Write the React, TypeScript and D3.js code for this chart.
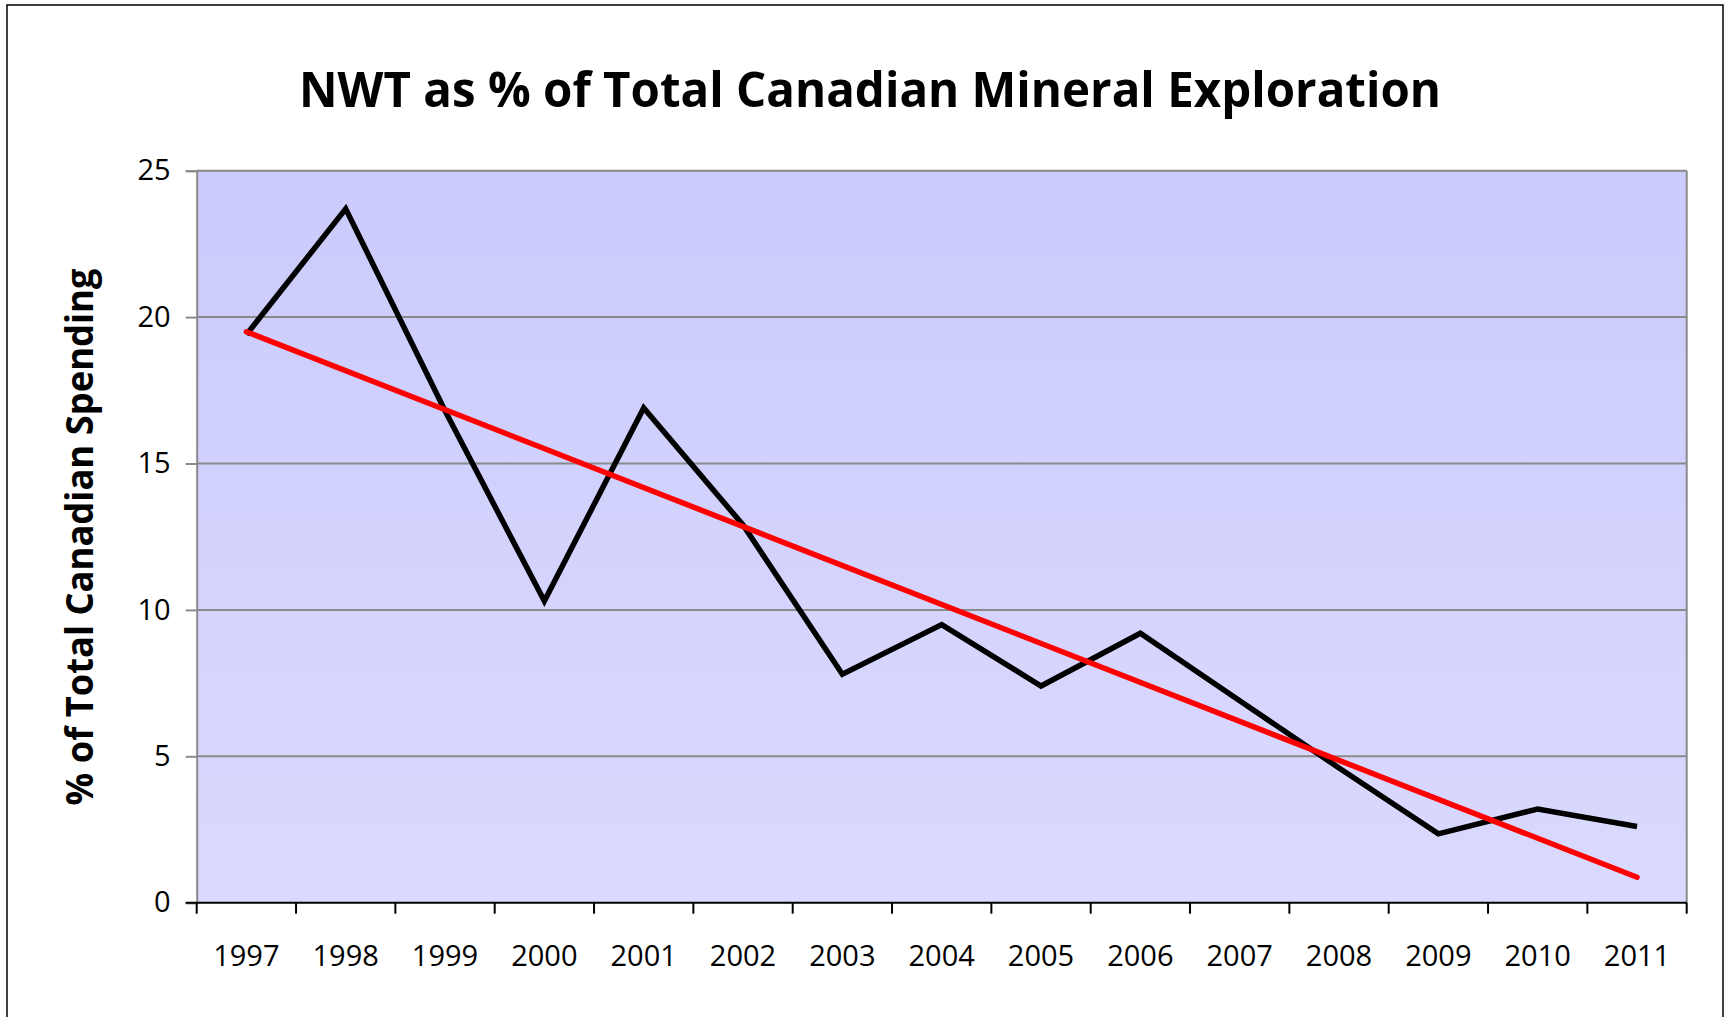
import React, { useEffect, useRef } from "react";
import * as d3 from "d3";

const years = ["1997", "1998", "1999", "2000", "2001", "2002", "2003", "2004", "2005", "2006", "2007", "2008", "2009", "2010", "2011"];
const nwtShare = [19.4, 23.7, 16.8, 10.3, 16.9, 12.9, 7.8, 9.5, 7.4, 9.2, 6.9, 4.6, 2.35, 3.2, 2.6];
// linear trend line end points
const trendYears = ["1997", "2011"];
const trendValues = [19.5, 0.87];
const yTicks = [0, 5, 10, 15, 20, 25];

const App = () => {
  const svgRef = useRef<SVGSVGElement>(null);

  useEffect(() => {
    const svg = d3.select(svgRef.current);
    svg.selectAll("*").remove();

    const width = 1730;
    const height = 1017;
    const margin = { top: 170.7, right: 43.3, bottom: 114.3, left: 196.7 };
    const font = "'Open Sans', sans-serif";

    // outer frame
    svg
      .append("rect")
      .attr("x", 7)
      .attr("y", 5)
      .attr("width", 1716)
      .attr("height", 1040)
      .attr("fill", "#fff")
      .attr("stroke", "#000")
      .attr("stroke-width", 1.5);

    const xScale = d3
      .scaleBand()
      .domain(years)
      .range([margin.left, width - margin.right])
      .padding(0);

    const yScale = d3
      .scaleLinear()
      .domain([0, 25])
      .range([height - margin.bottom, margin.top]);

    // plot background gradient
    const grad = svg
      .append("defs")
      .append("linearGradient")
      .attr("id", "plotBg")
      .attr("x1", 0)
      .attr("y1", 0)
      .attr("x2", 0)
      .attr("y2", 1);
    grad.append("stop").attr("offset", "0%").attr("stop-color", "#CBCBFC");
    grad.append("stop").attr("offset", "100%").attr("stop-color", "#DADAFF");

    svg
      .append("rect")
      .attr("x", margin.left)
      .attr("y", margin.top)
      .attr("width", width - margin.right - margin.left)
      .attr("height", height - margin.bottom - margin.top)
      .attr("fill", "url(#plotBg)");

    // gridlines
    svg
      .append("g")
      .selectAll("line")
      .data(yTicks.filter((d) => d > 0))
      .enter()
      .append("line")
      .attr("x1", margin.left)
      .attr("x2", width - margin.right)
      .attr("y1", (d) => yScale(d))
      .attr("y2", (d) => yScale(d))
      .attr("stroke", "#8a8a8a")
      .attr("stroke-width", 2);

    // right border of plot
    svg
      .append("line")
      .attr("x1", width - margin.right)
      .attr("x2", width - margin.right)
      .attr("y1", margin.top)
      .attr("y2", height - margin.bottom)
      .attr("stroke", "#8a8a8a")
      .attr("stroke-width", 2);

    // y axis
    const yAxis = d3
      .axisLeft(yScale)
      .tickValues(yTicks)
      .tickSize(11)
      .tickPadding(15)
      .tickFormat((d) => String(d));

    const yg = svg
      .append("g")
      .attr("transform", `translate(${margin.left},0)`)
      .call(yAxis);
    yg.select(".domain").attr("stroke", "#8a8a8a").attr("stroke-width", 2);
    yg.selectAll(".tick line").attr("stroke", "#8a8a8a").attr("stroke-width", 2);
    yg.selectAll(".tick text")
      .style("font-family", font)
      .style("font-size", "29px")
      .attr("fill", "#000");

    // x axis, ticks between categories
    const boundaries = d3.range(years.length + 1).map((i) => margin.left + i * xScale.bandwidth());
    const xg = svg.append("g");
    xg.append("line")
      .attr("x1", margin.left - 11)
      .attr("x2", width - margin.right)
      .attr("y1", height - margin.bottom)
      .attr("y2", height - margin.bottom)
      .attr("stroke", "#000")
      .attr("stroke-width", 2);
    xg.selectAll("line.tick")
      .data(boundaries)
      .enter()
      .append("line")
      .attr("class", "tick")
      .attr("x1", (d) => d)
      .attr("x2", (d) => d)
      .attr("y1", height - margin.bottom)
      .attr("y2", height - margin.bottom + 11)
      .attr("stroke", "#000")
      .attr("stroke-width", 2);
    xg.selectAll("text")
      .data(years)
      .enter()
      .append("text")
      .attr("x", (d) => xScale(d) + xScale.bandwidth() / 2)
      .attr("y", 966)
      .attr("text-anchor", "middle")
      .style("font-family", font)
      .style("font-size", "29px")
      .text((d) => d);

    const cx = (d: string) => xScale(d) + xScale.bandwidth() / 2;

    // data line
    const line = d3
      .line<number>()
      .x((d, i) => cx(years[i]))
      .y((d) => yScale(d));
    svg
      .append("path")
      .datum(nwtShare)
      .attr("d", line)
      .attr("fill", "none")
      .attr("stroke", "#000")
      .attr("stroke-width", 5.5)
      .attr("stroke-linejoin", "miter");

    // trend line
    const trend = d3
      .line<number>()
      .x((d, i) => cx(trendYears[i]))
      .y((d) => yScale(d));
    svg
      .append("path")
      .datum(trendValues)
      .attr("d", trend)
      .attr("fill", "none")
      .attr("stroke", "#FF0000")
      .attr("stroke-width", 5.5)
      .attr("stroke-linecap", "round");

    // title
    svg
      .append("text")
      .attr("x", 870)
      .attr("y", 107)
      .attr("text-anchor", "middle")
      .attr("textLength", 1142)
      .attr("lengthAdjust", "spacingAndGlyphs")
      .style("font-family", font)
      .style("font-weight", "bold")
      .style("font-size", "49px")
      .text("NWT as % of Total Canadian Mineral Exploration");

    // y axis title
    svg
      .append("text")
      .attr("transform", "translate(93,537) rotate(-90)")
      .attr("text-anchor", "middle")
      .attr("textLength", 537)
      .attr("lengthAdjust", "spacingAndGlyphs")
      .style("font-family", font)
      .style("font-weight", "bold")
      .style("font-size", "37px")
      .text("% of Total Canadian Spending");
  }, []);

  return (
    <svg
      ref={svgRef}
      width="1730"
      height="1017"
      style={{ position: "absolute", left: 0, top: 0, background: "#fff" }}
    ></svg>
  );
};

export default App;
